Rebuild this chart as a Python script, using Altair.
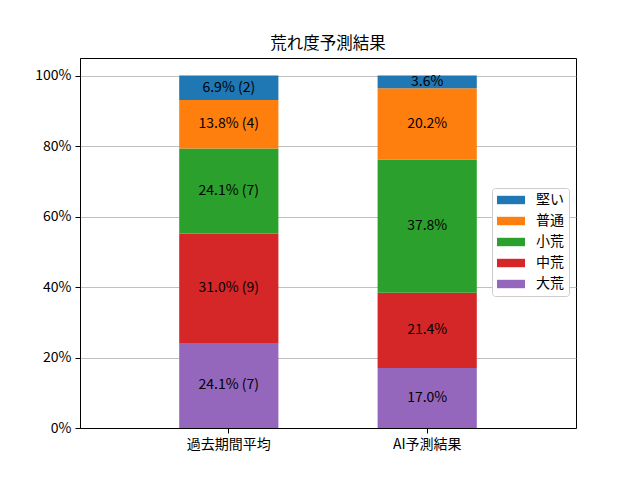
import altair as alt
import pandas as pd

categories = ["過去期間平均", "AI予測結果"]
levels = ["大荒", "中荒", "小荒", "普通", "堅い"]          # bottom -> top
legend_order = ["堅い", "普通", "小荒", "中荒", "大荒"]
colors = {"堅い": "#1f77b4", "普通": "#ff7f0e", "小荒": "#2ca02c",
          "中荒": "#d62728", "大荒": "#9467bd"}
past_cnt = [7, 9, 7, 4, 2]
ai_pct = [17.0, 21.4, 37.8, 20.2, 3.6]

rows = []
total = sum(past_cnt)
for i, (lv, c) in enumerate(zip(levels, past_cnt)):
    p = c / total * 100
    rows.append({"cat": categories[0], "level": lv, "idx": i, "pct": p,
                 "label": f"{p:.1f}% ({c})"})
for i, (lv, p) in enumerate(zip(levels, ai_pct)):
    rows.append({"cat": categories[1], "level": lv, "idx": i, "pct": p,
                 "label": f"{p:.1f}%"})
df = pd.DataFrame(rows)

FONT = "Noto Sans CJK JP"

base = alt.Chart(df).transform_stack(
    stack="pct", groupby=["cat"], as_=["y0", "y1"],
    sort=[alt.SortField("idx", order="ascending")]
).transform_calculate(mid="(datum.y0 + datum.y1) / 2")

xenc = alt.X("cat:N", sort=categories, title=None,
             scale=alt.Scale(paddingInner=0.5, paddingOuter=0.5),
             axis=alt.Axis(labelAngle=0, grid=False, tickSize=5, labelPadding=4))
yscale = alt.Scale(domain=[0, 105], nice=False, zero=True)

bars = base.mark_bar().encode(
    x=xenc,
    y=alt.Y("y0:Q", scale=yscale, title=None,
            axis=alt.Axis(values=[0, 20, 40, 60, 80, 100], labelExpr="datum.value + '%'",
                          grid=True, gridColor="#b0b0b0", gridWidth=0.8, tickSize=5,
                          labelPadding=4)),
    y2="y1:Q",
    color=alt.Color("level:N",
                    scale=alt.Scale(domain=legend_order,
                                    range=[colors[k] for k in legend_order]),
                    legend=alt.Legend(title=None, orient="none", legendX=412, legendY=130,
                                      symbolType="M-2,-0.6H2V0.6H-2Z", symbolSize=196,
                                      symbolOffset=7,
                                      symbolStrokeWidth=0, labelFontSize=14, labelFont=FONT,
                                      rowPadding=7, labelOffset=18, padding=5,
                                      strokeColor="#cccccc", fillColor="white",
                                      cornerRadius=3)),
)

texts = base.mark_text(fontSize=14, font=FONT, color="black").encode(
    x=alt.X("cat:N", sort=categories),
    y=alt.Y("mid:Q", scale=yscale),
    text="label:N",
)

chart = alt.layer(bars, texts).properties(
    width=496, height=370,
    title=alt.TitleParams("荒れ度予測結果", font=FONT, fontSize=16.5, fontWeight="normal",
                          color="black", offset=6),
    autosize=alt.AutoSizeParams(type="none"),
    padding={"left": 72, "top": 50, "right": 56, "bottom": 44},
).configure_view(stroke="black", strokeWidth=1).configure_axis(
    labelFont=FONT, labelFontSize=14, labelColor="black",
    domainColor="black", tickColor="black"
)

chart.save("out.html", embed_options={"renderer": "svg", "actions": False})
